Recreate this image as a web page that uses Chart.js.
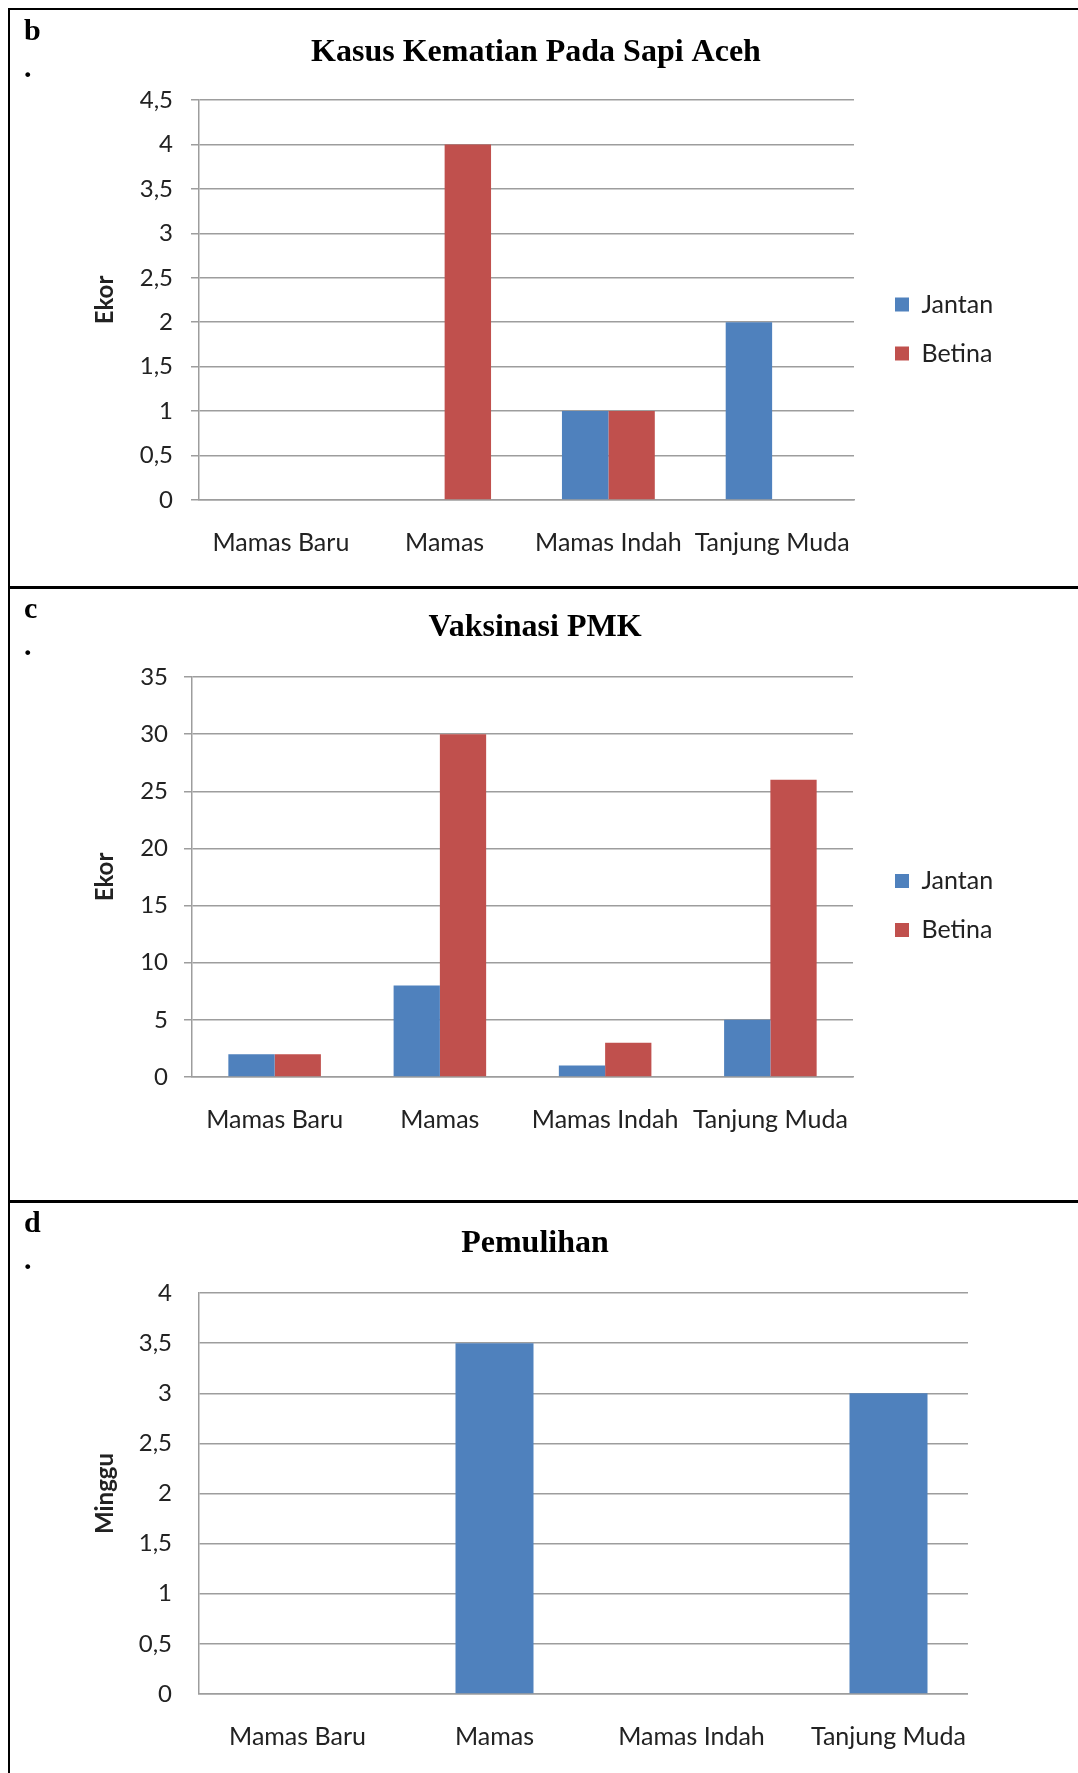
<!DOCTYPE html>
<html>
<head>
<meta charset="utf-8">
<script src="https://cdn.jsdelivr.net/npm/chart.js@4.4.0/dist/chart.umd.min.js"></script>
<style>
  html, body { margin: 0; padding: 0; background: #fff; }
  body { width: 1078px; height: 1773px; position: relative; overflow: hidden; }
  .bingkai { position: absolute; left: 8px; top: 8px; width: 1100px; height: 1800px;
             border-top: 2px solid #000; border-left: 2px solid #000; z-index: 2; pointer-events: none; }
  .garis { position: absolute; left: 8px; width: 1070px; height: 3px; background: #000; z-index: 2; }
  .huruf { position: absolute; left: 24px; font: bold 30px/37px "Liberation Serif", "Times New Roman", serif; z-index: 2; }
  .wadah { position: absolute; left: 0; width: 1078px; }
</style>
</head>
<body>
<div class="bingkai"></div>
<div class="garis" style="top:586px"></div>
<div class="garis" style="top:1200px"></div>

<div class="huruf" style="top:11px">b<br>.</div>
<div class="huruf" style="top:589px">c<br>.</div>
<div class="huruf" style="top:1203px">d<br>.</div>

<div class="wadah" style="top:11px;height:636px"><canvas id="grafikB"></canvas></div>
<div class="wadah" style="top:589px;height:633px"><canvas id="grafikC"></canvas></div>
<div class="wadah" style="top:1203px;height:570px"><canvas id="grafikD"></canvas></div>

<script>
// data
const desa = ["Mamas Baru", "Mamas", "Mamas Indah", "Tanjung Muda"];
const seriesNames = ["Jantan", "Betina"];
const matiJantan = [0, 0, 1, 2];
const matiBetina = [0, 4, 1, 0];
const vaksinJantan = [2, 8, 1, 5];
const vaksinBetina = [2, 30, 3, 26];
const pulihMinggu = [0, 3.5, 0, 3];
const yMaks = [4.5, 35, 4];
const yLangkah = [0.5, 5, 0.5];

const biru = "#4F81BD";
const merah = "#C0504D";
const abu = "#9d9d9d";
const sans = "Lato";
const serif = '"Liberation Serif", "Times New Roman", serif';
const ukuranTeks = 25;

function koma(v) {
  return String(v).replace(".", ",");
}

// lebar legenda (kotak + jarak + teks) supaya judul tetap di tengah
const ukur = document.createElement("canvas").getContext("2d");
ukur.font = ukuranTeks + "px " + sans;
const lebarLegenda = 24 + 14 + ukuranTeks / 2 + 10 + Math.max(...seriesNames.map(t => ukur.measureText(t).width));

// garis grid di grafik d berhenti lebih awal dari kategori terakhir
const potongGrid = {
  id: "potongGrid",
  beforeDatasetsDraw(chart, args, opts) {
    if (!opts.sampai) return;
    const a = chart.chartArea;
    const ctx = chart.ctx;
    ctx.save();
    ctx.fillStyle = "#fff";
    ctx.fillRect(opts.sampai, a.top - 3, a.right - opts.sampai + 3, a.bottom - a.top + 6);
    ctx.restore();
  }
};

function buatGrafik(id, p) {
  const jarak = p.legend ? p.boxX - 24 - p.chartRight : 0;
  const padKanan = p.legend ? 1078 - p.chartRight - jarak - lebarLegenda : 1078 - p.chartRight;
  const padKiri = 2 * p.titleCenter - 1078 + padKanan;

  const scales = {
    x: {
      grid: { display: false },
      border: { color: abu, width: 1.5 },
      ticks: { font: { family: sans, size: ukuranTeks }, color: "#222", padding: 20, maxRotation: 0, autoSkip: false },
      afterFit: s => { s.height = p.xHeight; }
    },
    y: {
      min: 0,
      max: p.max,
      ticks: { stepSize: p.step, callback: koma, font: { family: sans, size: 24 }, color: "#222", padding: p.tickPad },
      grid: { color: abu, lineWidth: 1.5, drawTicks: p.tickLen > 0, tickLength: p.tickLen },
      border: { color: abu, width: 1.5 },
      title: {
        display: true,
        text: p.yTitle,
        font: { family: sans, size: 24, weight: "bold" },
        color: "#222",
        padding: { top: 105 - padKiri - 14.4, bottom: 0 }
      },
      afterFit: s => { s.width = p.chartLeft - padKiri; }
    }
  };
  if (p.legend) {
    // sumbu kosong hanya untuk memberi jarak antara plot dan legenda
    scales.y2 = {
      position: "right",
      grid: { display: false, drawTicks: false },
      border: { display: false },
      ticks: { display: false },
      afterFit: s => { s.width = jarak; }
    };
  }

  return new Chart(document.getElementById(id), {
    type: "bar",
    data: { labels: desa, datasets: p.datasets },
    plugins: [potongGrid],
    options: {
      responsive: true,
      maintainAspectRatio: false,
      animation: false,
      devicePixelRatio: 1,
      datasets: { bar: { categoryPercentage: p.catPct, barPercentage: 1, borderWidth: 0 } },
      layout: { padding: { left: padKiri, right: padKanan, top: 0, bottom: 0 } },
      scales: scales,
      plugins: {
        potongGrid: { sampai: p.gridEnd || 0 },
        title: {
          display: true,
          text: p.title,
          font: { family: serif, size: 32, weight: "bold" },
          color: "#000",
          padding: { top: p.titlePadTop, bottom: p.titlePadBottom }
        },
        legend: {
          display: p.legend,
          position: "right",
          align: "center",
          labels: { boxWidth: 14, boxHeight: 14, padding: 24, font: { family: sans, size: ukuranTeks }, color: "#222" }
        },
        tooltip: { enabled: false }
      }
    }
  });
}

buatGrafik("grafikB", {
  title: "Kasus Kematian Pada Sapi Aceh",
  yTitle: "Ekor",
  datasets: [
    { label: seriesNames[0], data: matiJantan, backgroundColor: biru },
    { label: seriesNames[1], data: matiBetina, backgroundColor: merah }
  ],
  max: yMaks[0], step: yLangkah[0],
  chartLeft: 199, chartRight: 854,
  titleCenter: 536, titlePadTop: 22.5, titlePadBottom: 28.1,
  xHeight: 147, tickLen: 8, tickPad: 18,
  legend: true, boxX: 895, catPct: 0.567
});

buatGrafik("grafikC", {
  title: "Vaksinasi PMK",
  yTitle: "Ekor",
  datasets: [
    { label: seriesNames[0], data: vaksinJantan, backgroundColor: biru },
    { label: seriesNames[1], data: vaksinBetina, backgroundColor: merah }
  ],
  max: yMaks[1], step: yLangkah[1],
  chartLeft: 192, chartRight: 853,
  titleCenter: 535, titlePadTop: 20, titlePadBottom: 29.6,
  xHeight: 145, tickLen: 8, tickPad: 16,
  legend: true, boxX: 895, catPct: 0.56
});

buatGrafik("grafikD", {
  title: "Pemulihan",
  yTitle: "Minggu",
  datasets: [
    { label: "Pemulihan", data: pulihMinggu, backgroundColor: biru }
  ],
  max: yMaks[2], step: yLangkah[2],
  chartLeft: 199, chartRight: 987,
  titleCenter: 535, titlePadTop: 21.5, titlePadBottom: 30.1,
  xHeight: 79, tickLen: 0, tickPad: 27,
  legend: false, catPct: 0.396, gridEnd: 968
});
</script>
</body>
</html>
